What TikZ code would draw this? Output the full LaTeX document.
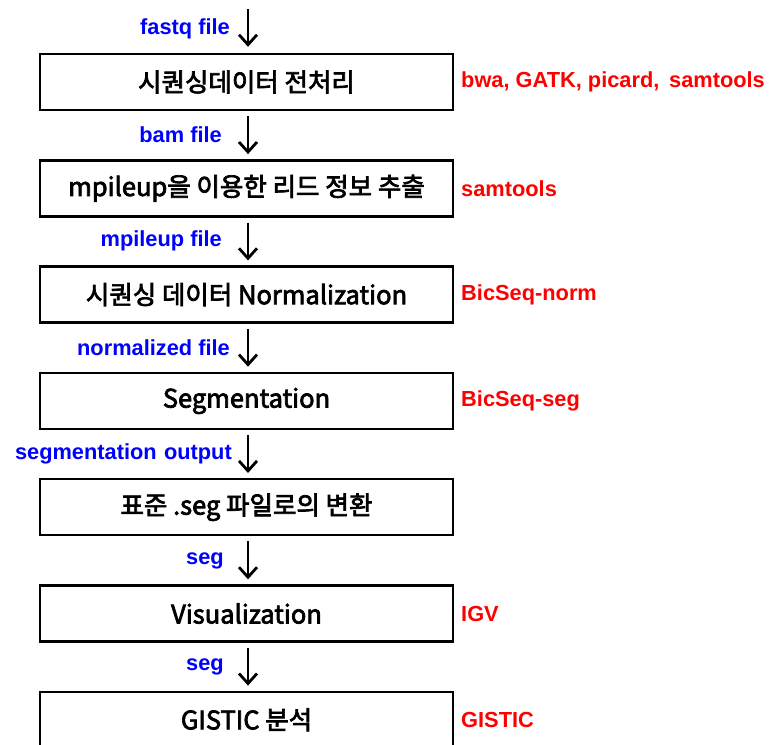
\documentclass[tikz,border=0pt]{standalone}
\usepackage{fontspec}
\setmainfont{Liberation Sans}
\newfontfamily\kr[FakeBold=2.8]{Noto Sans CJK KR}
\usetikzlibrary{arrows.meta}
\tikzset{
  box/.style={draw=black, line width=2.4pt, minimum width=413pt, minimum height=56pt, inner sep=0pt, font=\kr\fontsize{25.5}{28}\selectfont},
  inlab/.style={anchor=east, text=blue, inner sep=0pt, font=\bfseries\fontsize{21.8}{24}\selectfont},
  toollab/.style={anchor=west, text=red, inner sep=0pt, font=\bfseries\fontsize{21.8}{24}\selectfont},
  arr/.style={line width=2.8pt, -{Straight Barb[length=10pt,width=18pt,line width=2.8pt]}},
}
\begin{document}
\begin{tikzpicture}[x=1pt,y=-1pt]
\useasboundingbox (0,0) rectangle (770,744);
\clip (0,0) rectangle (770,744);
\node[box] (b1) at (246.5,82) {시퀀싱데이터 전처리};
\node[box] (b2) at (246.5,188.3) {mpileup을 이용한 리드 정보 추출};
\node[box] (b3) at (246.5,294.6) {시퀀싱 데이터 Normalization};
\node[box] (b4) at (246.5,400.9) {Segmentation};
\node[box] (b5) at (246.5,507.2) {표준 .seg 파일로의 변환};
\node[box] (b6) at (246.5,613.5) {Visualization};
\node[box] (b7) at (246.5,719.8) {GISTIC 분석};
\coordinate (top) at (248,9);
\draw[arr] (top) -- ([xshift=1.5pt,yshift=6pt]b1.north);
\draw[arr] ([xshift=1.5pt,yshift=-5pt]b1.south) -- ([xshift=1.5pt,yshift=5pt]b2.north);
\draw[arr] ([xshift=1.5pt,yshift=-5pt]b2.south) -- ([xshift=1.5pt,yshift=5pt]b3.north);
\draw[arr] ([xshift=1.5pt,yshift=-5pt]b3.south) -- ([xshift=1.5pt,yshift=5pt]b4.north);
\draw[arr] ([xshift=1.5pt,yshift=-5pt]b4.south) -- ([xshift=1.5pt,yshift=5pt]b5.north);
\draw[arr] ([xshift=1.5pt,yshift=-5pt]b5.south) -- ([xshift=1.5pt,yshift=5pt]b6.north);
\draw[arr] ([xshift=1.5pt,yshift=-5pt]b6.south) -- ([xshift=1.5pt,yshift=5pt]b7.north);
\node[inlab] (l1) at (230,29) {fastq file};
\node[inlab] (l2) at (222,134.3) {bam file};
\node[inlab] (l3) at (222,241) {mpileup file};
\node[inlab] (l4) at (230,347.5) {normalized file};
\node[inlab] (l5) at (232,454) {segmentation\,\,output};
\node[inlab] (l6) at (224,560.5) {seg};
\node[inlab] (l7) at (224,667) {seg};
\node[toollab] (t1) at (461,82) {bwa, GATK, picard,\, samtools};
\node[toollab] (t2) at (461,188.3) {samtools};
\node[toollab] (t3) at (461,294.6) {BicSeq-norm};
\node[toollab] (t4) at (461,400.9) {BicSeq-seg};
\node[toollab] (t6) at (461,613.5) {IGV};
\node[toollab] (t7) at (461,719.8) {GISTIC};
\end{tikzpicture}
\end{document}
